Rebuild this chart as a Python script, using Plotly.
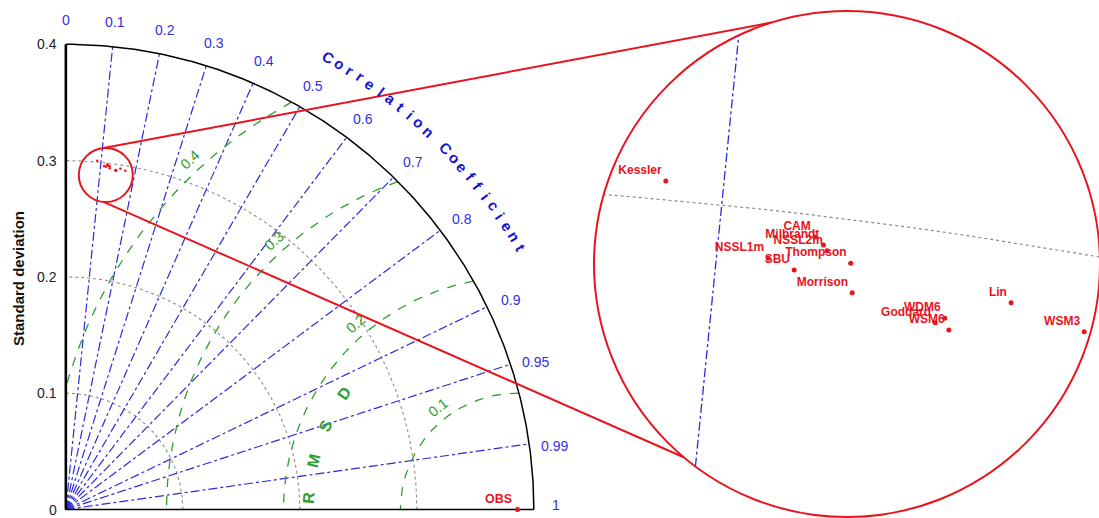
import numpy as np
import plotly.graph_objects as go

# ------------------------------------------------------------------ data
models = ["Kessler", "CAM", "Milbrandt", "NSSL2m", "NSSL1m", "SBU", "Thompson",
          "Morrison", "Lin", "Goddard", "WDM6", "WSM6", "WSM3"]
model_std = [0.30107, 0.29876, 0.29836, 0.29806, 0.29724, 0.29674, 0.29751,
             0.29585, 0.29658, 0.29479, 0.29512, 0.29449, 0.29562]
model_corr = [0.0890, 0.1183, 0.1201, 0.1209, 0.1099, 0.1151, 0.1257,
              0.1267, 0.1571, 0.1433, 0.1450, 0.1461, 0.1718]
obs_label = "OBS"
obs_std = 0.386

std_ticks = [0.0, 0.1, 0.2, 0.3, 0.4]
std_tick_labels = ["0", "0.1", "0.2", "0.3", "0.4"]
std_grid = [0.1, 0.2, 0.3]
corr_ticks = [0.0, 0.1, 0.2, 0.3, 0.4, 0.5, 0.6, 0.7, 0.8, 0.9, 0.95, 0.99, 1.0]
corr_tick_labels = ["0", "0.1", "0.2", "0.3", "0.4", "0.5", "0.6", "0.7",
                    "0.8", "0.9", "0.95", "0.99", "1"]
corr_lines = [0.1, 0.2, 0.3, 0.4, 0.5, 0.6, 0.7, 0.8, 0.9, 0.95, 0.99]
rmsd_levels = [0.1, 0.2, 0.3, 0.4]
rmsd_tick_labels = ["0.1", "0.2", "0.3", "0.4"]
corr_title = "Correlation Coefficient"
rmsd_title = "RMSD"
y_title = "Standard deviation"
inset_corr = 0.1   # reference lines visible in the zoomed inset
inset_std = 0.3

# ------------------------------------------------------------------ layout / style constants
W, H = 1099, 518
OX, OY, KX, KY = 65.85, 509.5, 1170.0, 1163.0   # main-plot pixel mapping
SMAX = 0.4
FONT = "Arial, Liberation Sans, sans-serif"
BLUE_LINE = "#2b2bd9"
BLUE_TXT = "#2f2fe6"
BLUE_TITLE = "#1414d2"
GREEN = "#2e9e2e"
RED = "#e8141e"
GRAY = "#8c8c8c"

small_c, small_r = (105.8, 175.0), 27.0           # small zoom circle (px)
big_c, big_r = (847.0, 264.0), 253.0              # inset circle (px)
S_IN = 17440.0                                    # inset px per unit
anchor_px = (721.7, 205.0)                        # px of inset_corr/inset_std crossing

P = (inset_std * inset_corr, inset_std * np.sqrt(1 - inset_corr ** 2))
c_in = (P[0] + (big_c[0] - anchor_px[0]) / S_IN, P[1] - (big_c[1] - anchor_px[1]) / S_IN)
R_in = big_r / S_IN


def polar(s, c):
    s = np.asarray(s, float)
    c = np.asarray(c, float)
    return s * c, s * np.sqrt(1 - c ** 2)


fig = go.Figure()


def line(x, y, color, width, dash="solid", inset=False):
    fig.add_trace(go.Scatter(x=list(x), y=list(y), mode="lines",
                             line=dict(color=color, width=width, dash=dash),
                             hoverinfo="skip", showlegend=False,
                             xaxis="x2" if inset else "x", yaxis="y2" if inset else "y"))


def ann(x, y, text, size, color, angle=0, xanchor="center", yanchor="middle", bold=False):
    fig.add_annotation(x=x, y=y, xref="x", yref="y", text=f"<b>{text}</b>" if bold else text,
                       showarrow=False, textangle=angle, xanchor=xanchor, yanchor=yanchor,
                       font=dict(family=FONT, size=size, color=color))


# --- std grid arcs
th = np.linspace(0, np.pi / 2, 300)
for s in std_grid:
    line(s * np.cos(th), s * np.sin(th), GRAY, 1.1, "dot")

# --- correlation rays
for c in corr_lines:
    x1, y1 = polar(SMAX, c)
    line([0, x1], [0, y1], BLUE_LINE, 1.2, "dashdot")

# --- RMSD arcs centred on OBS
tr = np.linspace(0, np.pi, 2000)
for r in rmsd_levels:
    xx = obs_std + r * np.cos(tr)
    yy = r * np.sin(tr)
    m = (xx >= 0) & (xx ** 2 + yy ** 2 <= SMAX ** 2)
    line(xx[m], yy[m], GREEN, 1.3, "dash")

# --- frame
line(SMAX * np.cos(th), SMAX * np.sin(th), "black", 1.5)
line([0, SMAX], [0, 0], "black", 1.6)
line([0, 0], [0, SMAX], "black", 2.6)

# --- model points (tiny, main plot)
mx, my = polar(model_std, model_corr)
fig.add_trace(go.Scatter(x=mx, y=my, mode="markers", marker=dict(color=RED, size=2.5),
                         hoverinfo="skip", showlegend=False))
# --- OBS
fig.add_trace(go.Scatter(x=[obs_std], y=[0], mode="markers", marker=dict(color=RED, size=5),
                         cliponaxis=False, hoverinfo="skip", showlegend=False))
ann(obs_std - 0.003, 0.001, obs_label, 12.5, RED, xanchor="right", yanchor="bottom", bold=True)

# --- std tick labels
for s, lab in zip(std_ticks, std_tick_labels):
    ann(-0.006, s, lab, 14, "#222222", xanchor="right")
ann((18 - OX) / KX, (OY - 279) / KY, y_title, 15, "#111111", angle=-90, bold=True)

# --- correlation tick labels
for c, lab in zip(corr_ticks, corr_tick_labels):
    a = np.degrees(np.arccos(c)) - 0.7 * c ** 2
    rr = 0.421 if c < 1 else 0.419
    aa = a if c < 1 else 0.5
    ann(rr * np.cos(np.radians(aa)), rr * np.sin(np.radians(aa)), lab, 14, BLUE_TXT)

# --- "Correlation Coefficient" along an arc
angs = np.linspace(60.0, 30.1, len(corr_title))
for ch, a in zip(corr_title, angs):
    if ch == " ":
        continue
    ann(0.449 * np.cos(np.radians(a)), 0.449 * np.sin(np.radians(a)), ch, 15, BLUE_TITLE,
        angle=90 - a, bold=True)

# --- RMSD labels
for r, lab, a in zip(rmsd_levels, rmsd_tick_labels, [128, 131, 132, 133]):
    rr = r + 0.011
    ann(obs_std + rr * np.cos(np.radians(a)), rr * np.sin(np.radians(a)), lab, 14.5, GREEN,
        angle=-(a - 90))
for ch, a in zip(rmsd_title, np.linspace(176.6, 146.0, len(rmsd_title))):
    ann(obs_std + 0.179 * np.cos(np.radians(a)), 0.179 * np.sin(np.radians(a)), ch, 16, GREEN,
        angle=-(a - 90), bold=True)

# ------------------------------------------------------------------ inset (zoomed view)
u = np.array(polar(1.0, inset_corr))
cc = np.array(c_in)
b = u @ cc
disc = np.sqrt(b ** 2 - (cc @ cc - R_in ** 2))
t0, t1 = b - disc, b + disc
line([t0 * u[0], t1 * u[0]], [t0 * u[1], t1 * u[1]], BLUE_LINE, 1.3, "dashdot", inset=True)

ta = np.linspace(np.radians(70), np.radians(90), 6000)
ax_, ay_ = inset_std * np.cos(ta), inset_std * np.sin(ta)
m = (ax_ - cc[0]) ** 2 + (ay_ - cc[1]) ** 2 <= R_in ** 2
line(ax_[m], ay_[m], GRAY, 1.2, "dot", inset=True)

fig.add_trace(go.Scatter(x=mx, y=my, mode="markers+text", xaxis="x2", yaxis="y2",
                         marker=dict(color=RED, size=5),
                         text=[f"<b>{n}</b>" for n in models], textposition="top left",
                         textfont=dict(family=FONT, size=12, color=RED),
                         hoverinfo="skip", showlegend=False))

# ------------------------------------------------------------------ zoom decorations (paper coords)
def pp(x, y):
    return x / W, 1 - y / H


def circ(c, r, a):
    a = np.radians(a)
    return c[0] + r * np.cos(a), c[1] - r * np.sin(a)


shapes = []
for c, r in [(small_c, small_r), (big_c, big_r)]:
    x0, y0 = pp(c[0] - r, c[1] + r)
    x1, y1 = pp(c[0] + r, c[1] - r)
    shapes.append(dict(type="circle", xref="paper", yref="paper", x0=x0, y0=y0, x1=x1, y1=y1,
                       line=dict(color=RED, width=2)))
for a_s, a_b in [(95, 107.4), (265, 229.8)]:
    p0 = pp(*circ(small_c, small_r, a_s))
    p1 = pp(*circ(big_c, big_r, a_b))
    shapes.append(dict(type="line", xref="paper", yref="paper", x0=p0[0], y0=p0[1],
                       x1=p1[0], y1=p1[1], line=dict(color=RED, width=2)))

fig.update_layout(
    width=W, height=H, autosize=False,
    margin=dict(l=0, r=0, t=0, b=0),
    paper_bgcolor="white", plot_bgcolor="white",
    shapes=shapes,
    xaxis=dict(range=[-OX / KX, (W - OX) / KX], visible=False, domain=[0, 1]),
    yaxis=dict(range=[-(H - OY) / KY, OY / KY], visible=False, domain=[0, 1]),
    xaxis2=dict(range=[c_in[0] - big_c[0] / S_IN, c_in[0] + (W - big_c[0]) / S_IN],
                visible=False, overlaying="x", anchor="y2", domain=[0, 1]),
    yaxis2=dict(range=[c_in[1] - (H - big_c[1]) / S_IN, c_in[1] + big_c[1] / S_IN],
                visible=False, overlaying="y", anchor="x2", domain=[0, 1]),
)

fig.write_html("out.html", config={"displayModeBar": False})
